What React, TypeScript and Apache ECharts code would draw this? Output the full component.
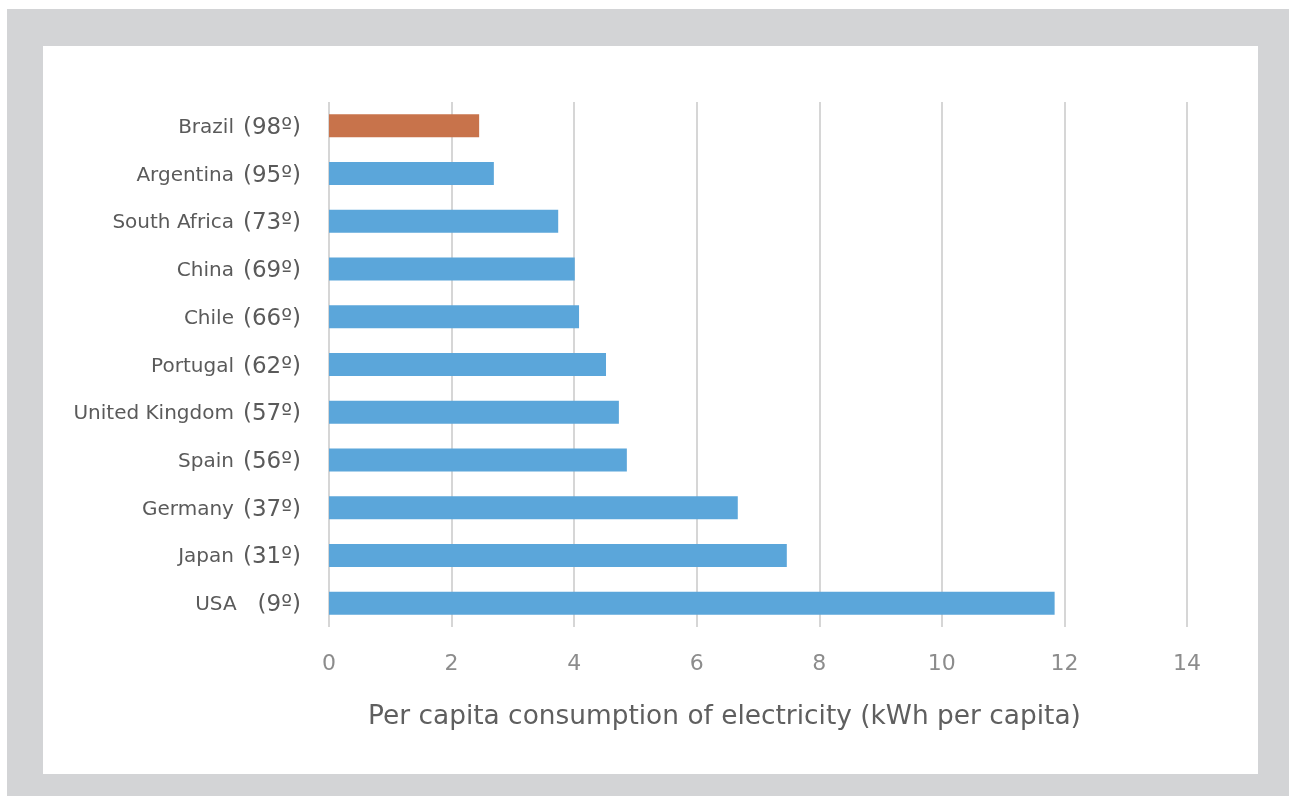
import React, { useEffect, useRef } from "react";
import * as echarts from "echarts";

const countries = ["Brazil", "Argentina", "South Africa", "China", "Chile", "Portugal", "United Kingdom", "Spain", "Germany", "Japan", "USA"];
const ranks = ["98º", "95º", "73º", "69º", "66º", "62º", "57º", "56º", "37º", "31º", "9º"];
const values = [2.45, 2.69, 3.74, 4.01, 4.08, 4.52, 4.73, 4.86, 6.67, 7.47, 11.84];
const highlight = "Brazil";
const xTitle = "Per capita consumption of electricity (kWh per capita)";

const FONT = "'DejaVu Sans', sans-serif";

export default function App() {
  const ref = useRef<HTMLDivElement>(null);
  useEffect(() => {
    if (!ref.current) return;
    const chart = echarts.init(ref.current, null, { renderer: "svg" });
    chart.setOption({
      animation: false,
      textStyle: { fontFamily: FONT },
      graphic: [
        { type: "rect", z: -10, shape: { x: 7, y: 9, width: 1290, height: 800 }, style: { fill: "#d3d4d6" }, silent: true },
        { type: "rect", z: -9, shape: { x: 43, y: 46, width: 1215, height: 728 }, style: { fill: "#ffffff" }, silent: true },
        {
          type: "text", left: 368, top: 701,
          style: { text: xTitle, fontSize: 26.4, fill: "#5f5f5f", fontFamily: FONT },
        },
      ],
      grid: { left: 329, right: 102, top: 102, bottom: 169, containLabel: false },
      xAxis: {
        type: "value", min: 0, max: 14, interval: 2,
        axisLine: { show: false }, axisTick: { show: false },
        splitLine: { show: true, lineStyle: { color: "#d6d6d6", width: 2 } },
        axisLabel: { fontSize: 22, color: "#8c8c8c", margin: 24, fontFamily: FONT },
      },
      yAxis: {
        type: "category", inverse: true, data: countries,
        axisLine: { show: false }, axisTick: { show: false },
        axisLabel: {
          margin: 28,
          formatter: (v: string, i: number) => v === "USA" ? `{a|${v}}{c|(${ranks[i]})}` : `{a|${v}}{b|(${ranks[i]})}`,
          rich: {
            a: { fontSize: 20, color: "#5a5a5a", fontFamily: FONT },
            b: { fontSize: 23, color: "#5a5a5a", fontFamily: FONT, padding: [0, 0, 0, 9] },
            c: { fontSize: 23, color: "#5a5a5a", fontFamily: FONT, padding: [0, 0, 0, 21] },
          },
        },
      },
      series: [{
        type: "bar",
        barWidth: 23,
        data: values.map((v, i) => ({
          value: v,
          itemStyle: { color: countries[i] === highlight ? "#c8734b" : "#5ba6da" },
        })),
      }],
    });
    return () => chart.dispose();
  }, []);
  return <div ref={ref} style={{ position: "fixed", left: 0, top: 0, width: 1289, height: 796 }} />;
}
